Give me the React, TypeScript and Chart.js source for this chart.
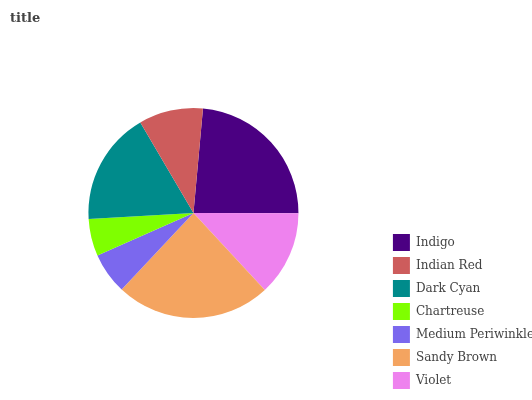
import React, { useEffect, useRef } from "react";
import { Chart, registerables } from "chart.js";

Chart.register(...registerables);

const titleText = "title";
const categories = ["Indigo", "Indian Red", "Dark Cyan", "Chartreuse", "Medium Periwinkle", "Sandy Brown", "Violet"];
const values = [23.6, 9.9, 17.5, 5.7, 6.4, 23.9, 13.1];
const colors = ["#4B0082", "#CD5C5C", "#008B8B", "#7FFF00", "#7B68EE", "#F4A460", "#EE82EE"];
// the original is drawn counter-clockwise from 3 o'clock; Chart.js draws clockwise
const drawOrder = [0, 6, 5, 4, 3, 2, 1];

export default function App() {
  const ref = useRef<HTMLCanvasElement>(null);
  useEffect(() => {
    if (!ref.current) return;
    const labels = drawOrder.map((i) => categories[i]);
    const chart = new Chart(ref.current, {
      type: "pie",
      data: {
        labels,
        datasets: [
          {
            data: drawOrder.map((i) => values[i]),
            backgroundColor: drawOrder.map((i) => colors[i]),
            borderWidth: 0,
            radius: 105,
          },
        ],
      },
      options: {
        responsive: false,
        animation: false,
        rotation: 5.2,
        layout: { padding: { left: 0, right: -12, top: 31, bottom: 5 } },
        plugins: {
          tooltip: { enabled: false },
          title: { display: false },
          legend: {
            position: "right",
            align: "end",
            labels: {
              boxWidth: 17,
              boxHeight: 17,
              padding: 6,
              color: "#444",
              font: { family: "DejaVu Serif", size: 12 },
              sort: (a: any, b: any) =>
                categories.indexOf(a.text) - categories.indexOf(b.text),
            },
          },
        },
      },
    });
    return () => chart.destroy();
  }, []);
  return (
    <div style={{ position: "absolute", left: 0, top: 0, width: 532, height: 400, background: "#fff", overflow: "hidden" }}>
      <canvas ref={ref} width={532} height={400} style={{ position: "absolute", left: 0, top: 0 }} />
      <div
        style={{
          position: "absolute",
          left: 10,
          top: 10,
          font: "bold 13px 'DejaVu Serif'",
          lineHeight: "15px",
          color: "#444",
        }}
      >
        {titleText}
      </div>
    </div>
  );
}
